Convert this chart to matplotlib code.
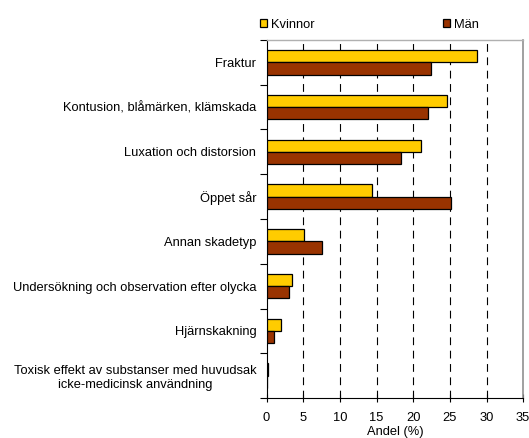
import numpy as np
import matplotlib
matplotlib.use("Agg")
import matplotlib.pyplot as plt
from matplotlib.patches import Patch

plt.rcParams['font.family'] = ['Liberation Sans', 'DejaVu Sans']

# Data (Andel %)
categories = [
    "Fraktur",
    "Kontusion, blåmärken, klämskada",
    "Luxation och distorsion",
    "Öppet sår",
    "Annan skadetyp",
    "Undersökning och observation efter olycka",
    "Hjärnskakning",
    "Toxisk effekt av substanser med huvudsak\nicke-medicinsk användning",
]
kvinnor = [28.7, 24.6, 21.0, 14.4, 5.1, 3.4, 2.0, 0.25]
man = [22.4, 22.0, 18.4, 25.2, 7.5, 3.1, 0.95, 0.0]
xticks = [0, 5, 10, 15, 20, 25, 30, 35]

col_k = '#FFCC00'
col_m = '#993300'
fs = 9.3

fig = plt.figure(figsize=(5.29, 4.38), dpi=100)
ax = fig.add_axes([0.504, 0.0913, 0.485, 0.8174])

n = len(categories)
y = np.arange(n)
h = 0.275
ax.barh(y - h / 2, kvinnor, height=h, color=col_k, edgecolor='black',
        linewidth=0.9, label='Kvinnor', zorder=3)
ax.barh(y + h / 2, man, height=h, color=col_m, edgecolor='black',
        linewidth=0.9, label='Män', zorder=3)

ax.set_xlim(0, 35)
ax.set_ylim(n - 0.5, -0.5)
ax.set_xticks(xticks)
ax.set_xticklabels([str(t) for t in xticks], fontsize=fs)
ax.tick_params(axis='x', direction='inout', length=6, width=0.8, pad=7)

# category labels at centres, ticks at group boundaries
ax.set_yticks(y)
ax.set_yticklabels(categories, fontsize=fs, multialignment='center')
ax.tick_params(axis='y', length=0, pad=7.5)
ax.set_yticks(np.arange(n + 1) - 0.5, minor=True)
ax.tick_params(axis='y', which='minor', length=5, width=0.8, direction='out')

for v in xticks[1:-1]:
    ax.axvline(v, color='black', linewidth=0.8, dashes=(7, 5), zorder=1)

ax.spines['left'].set_color('black')
ax.spines['bottom'].set_color('black')
ax.spines['left'].set_linewidth(0.8)
ax.spines['bottom'].set_linewidth(0.8)
ax.spines['top'].set_color('#b0b0b0')
ax.spines['right'].set_color('#909090')
ax.spines['top'].set_linewidth(1.0)
ax.spines['right'].set_linewidth(1.2)

ax.set_xlabel('Andel (%)', fontsize=fs, labelpad=1.5)

leg_kw = dict(loc='center left', frameon=False, fontsize=fs,
              handlelength=0.57, handleheight=0.57, handletextpad=0.26,
              borderpad=0, borderaxespad=0)
for lab, col, x0 in [('Kvinnor', col_k, 0.4915), ('Män', col_m, 0.8374)]:
    leg = fig.legend([Patch(facecolor=col, edgecolor='black', linewidth=0.9)],
                     [lab], bbox_to_anchor=(x0, 0.944), **leg_kw)

fig.savefig('out.png', dpi=100)
